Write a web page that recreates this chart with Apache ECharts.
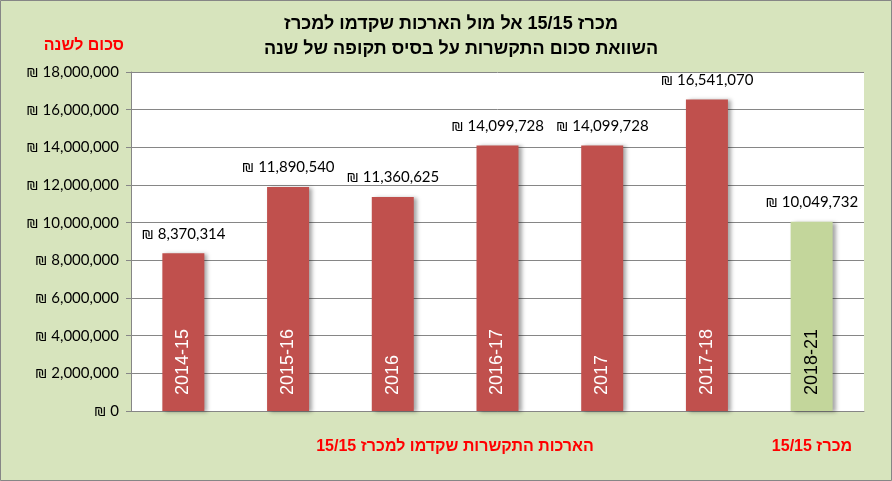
<!DOCTYPE html>
<html>
<head>
<meta charset="utf-8">
<script src="https://cdn.jsdelivr.net/npm/echarts@6/dist/echarts.min.js"></script>
<style>
  html, body { margin: 0; padding: 0; background: #D7E4BD; }
  #chart { width: 892px; height: 481px; }
</style>
</head>
<body>
<div id="chart"></div>
<script>
// נתונים
var categories = ['2014-15', '2015-16', '2016', '2016-17', '2017', '2017-18', '2018-21'];
var amounts = [8370314, 11890540, 11360625, 14099728, 14099728, 16541070, 10049732];
var yTicks = [0, 2000000, 4000000, 6000000, 8000000, 10000000, 12000000, 14000000, 16000000, 18000000];

var titleLine1 = 'מכרז 15/15 אל מול הארכות שקדמו למכרז';
var titleLine2 = 'השוואת סכום התקשרות על בסיס תקופה של שנה';
var yName = 'סכום לשנה';
var leftNote = 'הארכות התקשרות שקדמו למכרז 15/15';
var rightNote = 'מכרז 15/15';

var shekel = function(v){ return '\u20AA ' + Number(v).toLocaleString('en-US'); };

var RED = '#C0504D', GREEN = '#C3D69B';
var lastIdx = categories.length - 1;

var barData = amounts.map(function(v, i){
    return { value: v, itemStyle: { color: i === lastIdx ? GREEN : RED } };
});
var innerData = amounts.map(function(v, i){
    return { value: v, label: { color: i === lastIdx ? '#000' : '#fff' } };
});

var chart = echarts.init(document.getElementById('chart'));
chart.setOption({
    backgroundColor: '#D7E4BD',
    animation: false,
    title: [
        { text: titleLine1, left: 446, top: 10, textAlign: 'center',
          textStyle: { fontFamily: 'Arial, "Liberation Sans"', fontSize: 18, fontWeight: 'bold', color: '#000' } },
        { text: titleLine2, left: 456, top: 35, textAlign: 'center',
          textStyle: { fontFamily: 'Arial, "Liberation Sans"', fontSize: 18, fontWeight: 'bold', color: '#000' } },
        { text: yName, left: 119, top: 33, textAlign: 'right',
          textStyle: { fontFamily: 'Arial, "Liberation Sans"', fontSize: 16, fontWeight: 'bold', color: '#FF0000' } },
        { text: leftNote, left: 450, top: 434, textAlign: 'center',
          textStyle: { fontFamily: 'Arial, "Liberation Sans"', fontSize: 16, fontWeight: 'bold', color: '#FF0000' } },
        { text: rightNote, left: 807, top: 434, textAlign: 'center',
          textStyle: { fontFamily: 'Arial, "Liberation Sans"', fontSize: 16, fontWeight: 'bold', color: '#FF0000' } }
    ],
    graphic: [
        { type: 'rect', silent: true, z: 100,
          shape: { x: 0.5, y: 0.5, width: 891, height: 480 },
          style: { fill: null, stroke: '#868686', lineWidth: 1 } }
    ],
    grid: {
        left: 131, right: 28, top: 72, bottom: 70,
        show: true, backgroundColor: '#fff', borderWidth: 0
    },
    xAxis: {
        type: 'category',
        data: categories,
        axisLine: { lineStyle: { color: '#868686' } },
        axisTick: { show: false },
        axisLabel: { show: false }
    },
    yAxis: {
        type: 'value',
        min: yTicks[0],
        max: yTicks[yTicks.length - 1],
        interval: yTicks[1] - yTicks[0],
        axisLine: { show: true, lineStyle: { color: '#868686' } },
        axisTick: { show: true, length: 5, lineStyle: { color: '#868686' } },
        splitLine: { lineStyle: { color: '#868686' } },
        axisLabel: {
            margin: 12,
            fontFamily: 'Lato, "Open Sans", sans-serif',
            fontSize: 15,
            color: '#000',
            formatter: function(v){ return shekel(v); }
        }
    },
    series: [
        {
            type: 'bar',
            data: barData,
            barWidth: 42,
            itemStyle: {
                shadowColor: 'rgba(0,0,0,0.35)',
                shadowBlur: 4,
                shadowOffsetX: 3,
                shadowOffsetY: 1
            },
            label: {
                show: true,
                position: 'top',
                distance: 12,
                fontFamily: 'Lato, "Open Sans", sans-serif',
                fontSize: 15,
                color: '#000',
                formatter: function(p){ return shekel(p.value); }
            }
        },
        {
            type: 'bar',
            data: innerData,
            barWidth: 42,
            barGap: '-100%',
            z: 5,
            itemStyle: { color: 'transparent' },
            label: {
                show: true,
                position: 'insideBottom',
                distance: 16,
                rotate: 90,
                align: 'left',
                verticalAlign: 'middle',
                fontFamily: 'Arial, "Liberation Sans"',
                fontSize: 18,
                formatter: function(p){ return categories[p.dataIndex]; }
            }
        }
    ]
});
</script>
</body>
</html>
